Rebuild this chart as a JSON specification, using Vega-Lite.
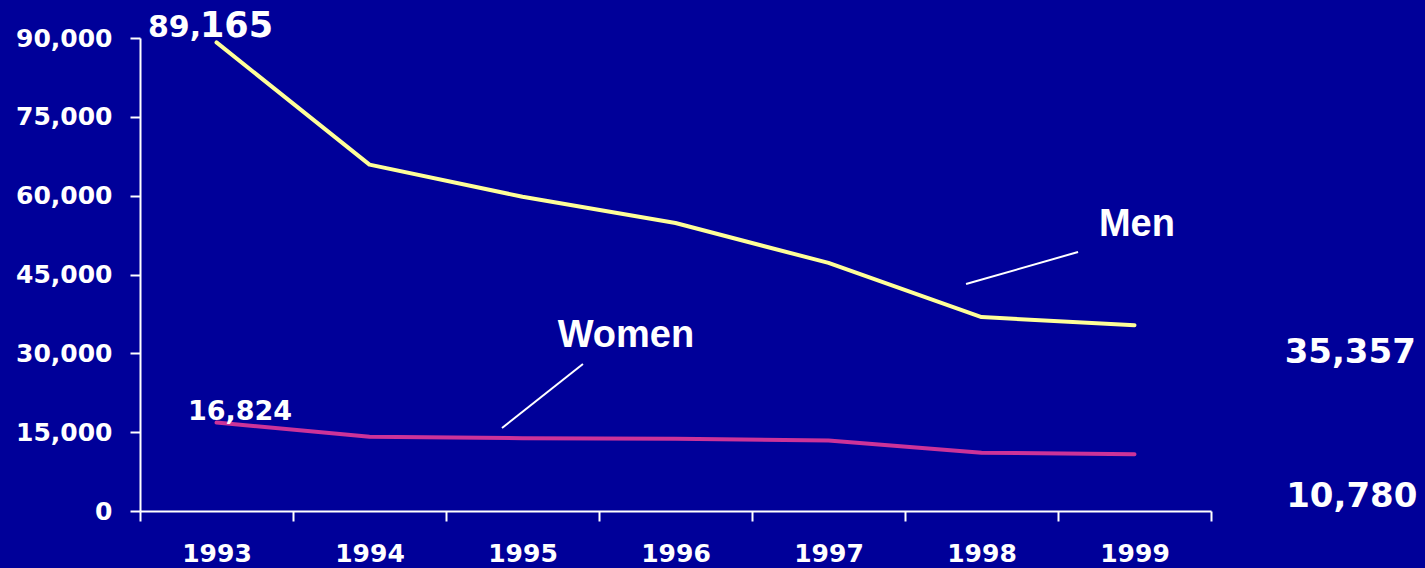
{
  "$schema": "https://vega.github.io/schema/vega-lite/v6.json",
  "width": 1071,
  "height": 473,
  "autosize": {"type": "none"},
  "padding": {"left": 140, "top": 38, "right": 214, "bottom": 57},
  "background": "#000099",
  "config": {"view": {"stroke": null}},
  "layer": [
    {
      "data": {"values": [
        {"year": 1993, "value": 89165, "series": "Men"},
        {"year": 1994, "value": 65900, "series": "Men"},
        {"year": 1995, "value": 59800, "series": "Men"},
        {"year": 1996, "value": 54800, "series": "Men"},
        {"year": 1997, "value": 47200, "series": "Men"},
        {"year": 1998, "value": 36900, "series": "Men"},
        {"year": 1999, "value": 35357, "series": "Men"},
        {"year": 1993, "value": 16824, "series": "Women"},
        {"year": 1994, "value": 14140, "series": "Women"},
        {"year": 1995, "value": 13850, "series": "Women"},
        {"year": 1996, "value": 13750, "series": "Women"},
        {"year": 1997, "value": 13400, "series": "Women"},
        {"year": 1998, "value": 11100, "series": "Women"},
        {"year": 1999, "value": 10780, "series": "Women"}
      ]},
      "mark": {"type": "line", "strokeWidth": 4, "strokeCap": "round", "strokeJoin": "round"},
      "encoding": {
        "x": {
          "field": "year", "type": "quantitative",
          "scale": {"domain": [1992.5, 1999.5], "nice": false, "zero": false},
          "axis": {
            "values": [1992.5, 1993, 1993.5, 1994, 1994.5, 1995, 1995.5, 1996, 1996.5, 1997, 1997.5, 1998, 1998.5, 1999, 1999.5],
            "labelExpr": "datum.value % 1 === 0 ? datum.value + '' : ''",
            "tickOpacity": {"condition": {"test": "datum.value % 1 === 0", "value": 0}, "value": 1},
            "title": null, "grid": false,
            "domainColor": "white", "domainWidth": 2,
            "tickColor": "white", "tickWidth": 2, "tickSize": 10,
            "labelColor": "white", "labelFont": "DejaVu Sans", "labelFontWeight": "bold", "labelFontSize": 25,
            "labelPadding": 20, "labelOverlap": false, "labelFlush": false, "labelBound": false
          }
        },
        "y": {
          "field": "value", "type": "quantitative",
          "scale": {"domain": [0, 90000], "nice": false},
          "axis": {
            "values": [0, 15000, 30000, 45000, 60000, 75000, 90000],
            "format": ",.0f",
            "title": null, "grid": false,
            "domainColor": "white", "domainWidth": 2,
            "tickColor": "white", "tickWidth": 2, "tickSize": 10,
            "labelColor": "white", "labelFont": "DejaVu Sans", "labelFontWeight": "bold", "labelFontSize": 25,
            "labelPadding": 18
          }
        },
        "color": {
          "field": "series", "type": "nominal",
          "scale": {"domain": ["Men", "Women"], "range": ["#FFFF99", "#CC3399"]},
          "legend": null
        }
      }
    },
    {
      "data": {"values": [
        {"year": 1997.899, "value": 43190, "year2": 1998.631, "value2": 49280},
        {"year": 1994.866, "value": 15793, "year2": 1995.395, "value2": 27970}
      ]},
      "mark": {"type": "rule", "color": "white", "strokeWidth": 2},
      "encoding": {
        "x": {"field": "year", "type": "quantitative"},
        "y": {"field": "value", "type": "quantitative"},
        "x2": {"field": "year2"},
        "y2": {"field": "value2"}
      }
    },
    {
      "data": {"values": [{"label": "89,", "year": 1992.552, "value": 90190}]},
      "mark": {"type": "text", "color": "white", "font": "DejaVu Sans", "fontWeight": "bold", "fontSize": 30, "align": "left", "baseline": "alphabetic"},
      "encoding": {
        "x": {"field": "year", "type": "quantitative"},
        "y": {"field": "value", "type": "quantitative"},
        "text": {"field": "label"}
      }
    },
    {
      "data": {"values": [{"label": "165", "year": 1992.892, "value": 90190}]},
      "mark": {"type": "text", "color": "white", "font": "DejaVu Sans", "fontWeight": "bold", "fontSize": 35, "align": "left", "baseline": "alphabetic"},
      "encoding": {
        "x": {"field": "year", "type": "quantitative"},
        "y": {"field": "value", "type": "quantitative"},
        "text": {"field": "label"}
      }
    },
    {
      "data": {"values": [{"label": "16,824", "year": 1993.154, "value": 17315}]},
      "mark": {"type": "text", "color": "white", "font": "DejaVu Sans", "fontWeight": "bold", "fontSize": 27, "align": "center", "baseline": "alphabetic"},
      "encoding": {
        "x": {"field": "year", "type": "quantitative"},
        "y": {"field": "value", "type": "quantitative"},
        "text": {"field": "label"}
      }
    },
    {
      "data": {"values": [
        {"label": "35,357", "year": 2000.41, "value": 28160},
        {"label": "10,780", "year": 2000.42, "value": 761}
      ]},
      "mark": {"type": "text", "color": "white", "font": "DejaVu Sans", "fontWeight": "bold", "fontSize": 34, "align": "center", "baseline": "alphabetic"},
      "encoding": {
        "x": {"field": "year", "type": "quantitative"},
        "y": {"field": "value", "type": "quantitative"},
        "text": {"field": "label"}
      }
    },
    {
      "data": {"values": [
        {"label": "Men", "year": 1999.016, "value": 52325},
        {"label": "Women", "year": 1995.676, "value": 31205}
      ]},
      "mark": {"type": "text", "color": "white", "font": "Liberation Sans", "fontWeight": "bold", "fontSize": 38, "align": "center", "baseline": "alphabetic"},
      "encoding": {
        "x": {"field": "year", "type": "quantitative"},
        "y": {"field": "value", "type": "quantitative"},
        "text": {"field": "label"}
      }
    }
  ]
}
